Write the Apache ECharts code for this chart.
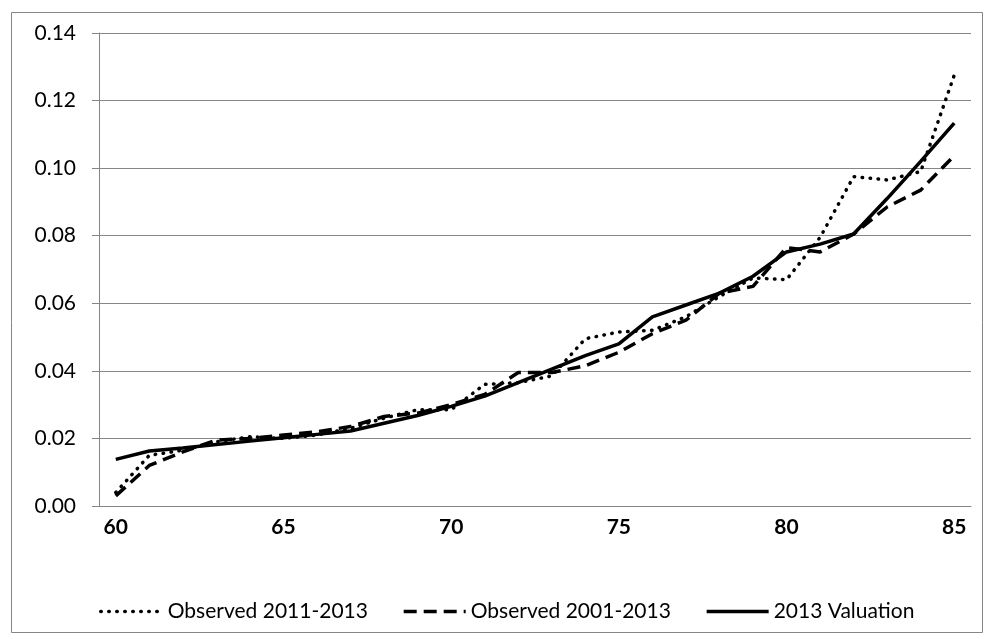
<!DOCTYPE html>
<html>
<head>
<meta charset="utf-8">
<script src="https://cdn.jsdelivr.net/npm/echarts@6/dist/echarts.min.js"></script>
<style>html,body{margin:0;padding:0;background:#fff}#c{width:990px;height:639px}</style>
</head>
<body>
<div id="c"></div>
<script>
const ages = ['60','61','62','63','64','65','66','67','68','69','70','71','72','73','74','75','76','77','78','79','80','81','82','83','84','85'];
const seriesNames = ['Observed 2011-2013','Observed 2001-2013','2013 Valuation'];
const observed2011 = [0.004,0.015,0.0165,0.019,0.0205,0.020,0.021,0.023,0.026,0.0285,0.0285,0.036,0.0365,0.0385,0.0495,0.0515,0.052,0.056,0.062,0.0675,0.067,0.0795,0.0975,0.0965,0.099,0.1275];
const observed2001 = [0.003,0.012,0.016,0.0195,0.020,0.021,0.022,0.0235,0.0265,0.0275,0.030,0.033,0.0395,0.0395,0.0415,0.0455,0.051,0.055,0.063,0.065,0.0765,0.0752,0.0805,0.0885,0.0935,0.1037];
const valuation2013 = [0.0138,0.0163,0.0172,0.0182,0.0192,0.0202,0.0212,0.0222,0.0245,0.0268,0.0295,0.0325,0.0365,0.0405,0.0445,0.048,0.056,0.0595,0.063,0.068,0.0752,0.0775,0.0805,0.091,0.102,0.1133];

const font = 'Lato, "Open Sans", sans-serif';
const chart = echarts.init(document.getElementById('c'), null, {renderer:'canvas'});
chart.setOption({
  animation:false,
  backgroundColor:'#fff',
  graphic:[{type:'rect',left:9,top:10,shape:{width:971,height:620},style:{fill:'none',stroke:'#868686',lineWidth:1},silent:true}],
  grid:{left:99,right:19,top:33,bottom:133,containLabel:false},
  legend:{
    top:596,left:94,itemWidth:62,itemHeight:16,itemGap:34,
    lineStyle:{width:3.5},
    itemStyle:{color:'rgba(0,0,0,0)',borderWidth:0,opacity:0},
    textStyle:{fontFamily:font,fontSize:21,color:'#000'},
    data:seriesNames
  },
  xAxis:{
    type:'category',data:ages,boundaryGap:true,
    axisLine:{lineStyle:{color:'#868686',width:1}},
    axisTick:{interval:4,length:6,lineStyle:{color:'#868686'}},
    axisLabel:{interval:4,fontFamily:font,fontSize:21,fontWeight:'bold',color:'#000',margin:11}
  },
  yAxis:{
    type:'value',min:0,max:0.14,interval:0.02,
    axisLine:{show:true,lineStyle:{color:'#868686'}},
    axisTick:{show:true,length:7,lineStyle:{color:'#868686'}},
    splitLine:{lineStyle:{color:'#868686',width:1}},
    axisLabel:{formatter:v=>v.toFixed(2),fontFamily:font,fontSize:21,color:'#000',margin:23}
  },
  series:[
    {name:seriesNames[0],type:'line',data:observed2011,symbol:'none',lineStyle:{color:'#000',width:3.5,type:[0.5,7.5],cap:'round'},itemStyle:{color:'#000'}},
    {name:seriesNames[1],type:'line',data:observed2001,symbol:'none',lineStyle:{color:'#000',width:3.5,type:[13,7]},itemStyle:{color:'#000'}},
    {name:seriesNames[2],type:'line',data:valuation2013,symbol:'none',lineStyle:{color:'#000',width:3.5},itemStyle:{color:'#000'}}
  ]
});
</script>
</body>
</html>
